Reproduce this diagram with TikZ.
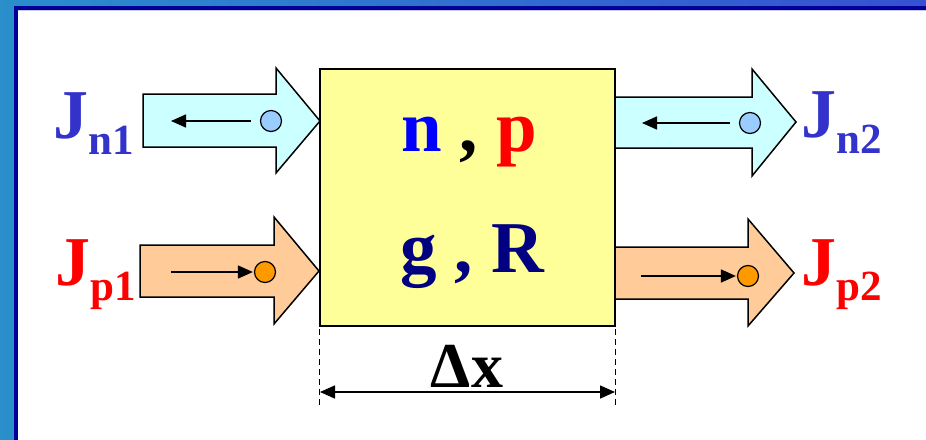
\documentclass[tikz,border=0pt]{standalone}
\usepackage{fontspec}
\setmainfont{Liberation Serif}
\usetikzlibrary{arrows.meta}
\definecolor{bgA}{HTML}{2A8FCB}
\definecolor{bgB}{HTML}{3650D2}
\definecolor{frame}{HTML}{000099}
\definecolor{frameline}{HTML}{C8C8E8}
\definecolor{cyanfill}{HTML}{CCFFFF}
\definecolor{orangefill}{HTML}{FFCC99}
\definecolor{yellowfill}{HTML}{FFFF99}
\definecolor{ncirc}{HTML}{99CCFF}
\definecolor{pcirc}{HTML}{FF9900}
\definecolor{jn}{HTML}{3333CC}
\definecolor{navy}{HTML}{000080}
\tikzset{
  bigarrow/.style={draw=black, line width=1.5pt, line join=miter},
  carrier/.style={circle, draw=black, line width=1.2pt, minimum size=21pt, inner sep=0pt},
  flow/.style={line width=1.6pt, -{Triangle[length=15pt,width=13pt]}},
  jlabel/.style={inner sep=0pt, font=\bfseries},
  boxtext/.style={inner sep=0pt, anchor=base, font=\bfseries\fontsize{73}{73}\selectfont},
}
\newcommand{\Jlab}[3]{{\fontsize{70}{70}\selectfont J}{\fontsize{43}{43}\selectfont\raisebox{-#3}{#1#2}}}
\begin{document}
\begin{tikzpicture}[x=1pt,y=-1pt]
\useasboundingbox (0,0) rectangle (926,439);
% background frame
\fill[left color=bgA, right color=bgB] (-5,-5) rectangle (935,450);
\fill[frame] (14,6) rectangle (935,450);
\fill[frameline] (18,10) rectangle (935,450);
\fill[white] (18,11) rectangle (935,450);
% flux arrows
\draw[bigarrow, fill=cyanfill] (143,94) -- (276,94) -- (276,68) -- (320,121) -- (276,173) -- (276,147) -- (143,147) -- cycle;
\draw[bigarrow, fill=orangefill] (140,245) -- (274,245) -- (274,217) -- (319,271) -- (274,324) -- (274,297) -- (140,297) -- cycle;
\draw[bigarrow, fill=cyanfill] (615,97) -- (752,97) -- (752,69) -- (796,122) -- (752,176) -- (752,148) -- (615,148) -- cycle;
\draw[bigarrow, fill=orangefill] (615,247) -- (748,247) -- (748,219) -- (794,273) -- (748,326) -- (748,299) -- (615,299) -- cycle;
% central box
\node[draw=black, line width=1.5pt, fill=yellowfill, minimum width=295pt, minimum height=257pt, inner sep=0pt] (box) at (467.5,197.5) {};
\node[boxtext] (np) at (469,151) {\textcolor{blue}{n} , \textcolor{red}{p}};
\node[boxtext, text=navy] (gR) at (472,272) {g , R};
% carriers
\node[carrier, fill=ncirc] (c1) at (271,121) {};
\node[carrier, fill=pcirc] (c2) at (265,272) {};
\node[carrier, fill=ncirc] (c3) at (750,123) {};
\node[carrier, fill=pcirc] (c4) at (748,276) {};
\coordinate (e1) at (171,121);
\coordinate (s2) at (171,272);
\coordinate (e3) at (642,123);
\coordinate (s4) at (641,276);
\draw[flow] ([xshift=-9pt]c1.west) -- (e1);
\draw[flow] (s2) -- ([xshift=-1pt]c2.west);
\draw[flow] ([xshift=-9pt]c3.west) -- (e3);
\draw[flow] (s4) -- ([xshift=-1pt]c4.west);
% labels
\node[jlabel, text=jn, anchor=base east] (jn1) at (134,138) {\Jlab{n}{1}{16pt}};
\node[jlabel, text=red, anchor=base east] (jp1) at (136,285) {\Jlab{p}{1}{15pt}};
\node[jlabel, text=jn, anchor=base west] (jn2) at (801,137) {\Jlab{n}{2}{16pt}};
\node[jlabel, text=red, anchor=base west] (jp2) at (801,285) {\Jlab{p}{2}{15pt}};
% dimension
\coordinate (dl) at (320,392);
\coordinate (dr) at (615,392);
\draw[line width=1pt, dash pattern=on 6pt off 4pt] (box.south west) ++(0,2) -- ++(0,77);
\draw[line width=1pt, dash pattern=on 6pt off 4pt] (box.south east) ++(0,2) -- ++(0,77);
\draw[line width=1.6pt, {Triangle[length=15pt,width=13pt]}-{Triangle[length=15pt,width=13pt]}] (dl) -- (dr);
\node[inner sep=0pt, anchor=base, font=\bfseries\fontsize{64}{64}\selectfont] (dx) at (467,387) {Δx};
\end{tikzpicture}
\end{document}
